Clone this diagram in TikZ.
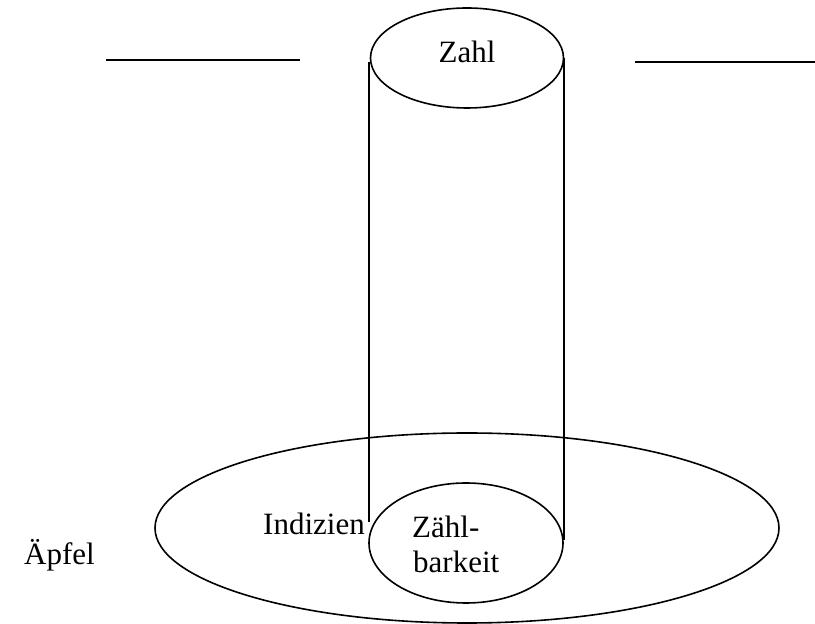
\documentclass[tikz,border=0pt]{standalone}
\usepackage{fontspec}
\setmainfont{Liberation Serif}
\usetikzlibrary{shapes.geometric}
\begin{document}
\begin{tikzpicture}[x=1pt,y=1pt,
  ln/.style={line width=1.6pt},
  oval/.style={draw,ellipse,line width=1.6pt,inner sep=0pt},
  lbl/.style={font=\fontsize{31}{35}\selectfont,inner sep=0pt}]
\useasboundingbox (0,0) rectangle (815,624);
% ellipses
\node[oval,minimum width=624pt,minimum height=190pt] (big) at (467,96) {};
\node[oval,minimum width=194pt,minimum height=120pt] (small) at (466,81) {};
\node[oval,minimum width=193pt,minimum height=100pt] (top) at (467,566) {};
% cylinder sides
\coordinate (lt) at (369,562);
\coordinate (lb) at (369,102);
\coordinate (rt) at (564,566);
\coordinate (rb) at (564,84);
\draw[ln] (lt) -- (lb);
\draw[ln] (rt) -- (rb);
% horizontal lines
\coordinate (h1a) at (106,564);
\coordinate (h1b) at (300,564);
\coordinate (h2a) at (635,562);
\coordinate (h2b) at (815,562);
\draw[ln] (h1a) -- (h1b);
\draw[ln] (h2a) -- (h2b);
% labels
\node[lbl,anchor=base] (zahl) at (467,561) {Zahl};
\node[lbl,anchor=base east] (ind) at (365,89) {Indizien};
\node[lbl,anchor=base west] (z1) at (412,86) {Zähl-};
\node[lbl,anchor=base west] (z2) at (413,51) {barkeit};
\node[lbl,anchor=base east] (apf) at (95,59) {Äpfel};
\end{tikzpicture}
\end{document}
